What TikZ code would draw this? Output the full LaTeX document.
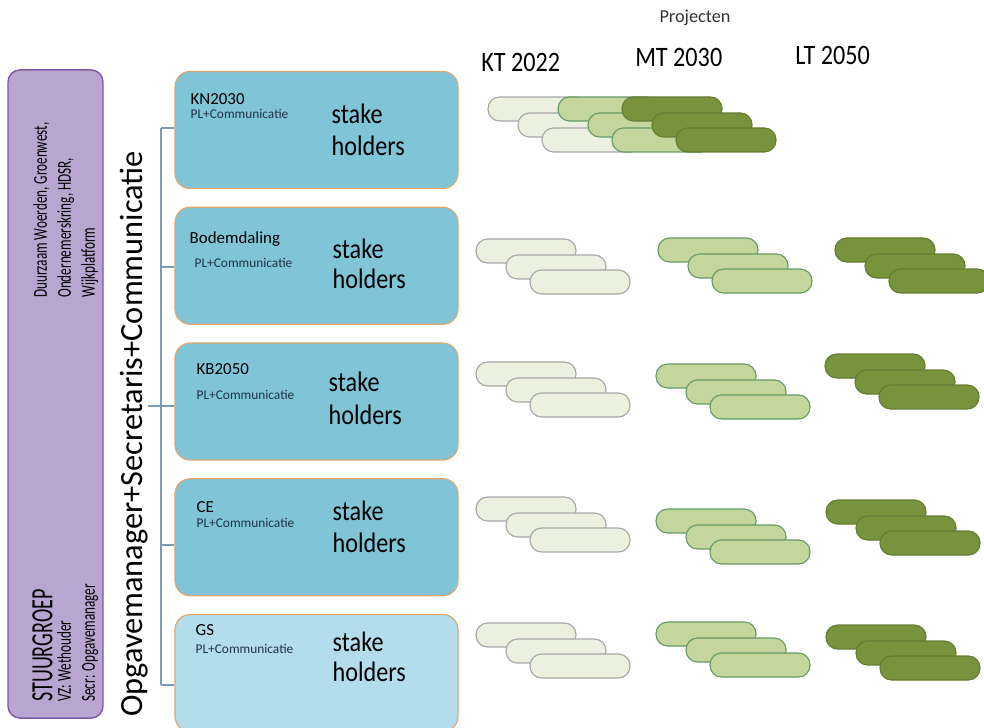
\documentclass[tikz,border=0pt]{standalone}
\usepackage{fontspec}
\setmainfont{Carlito}
\newfontfamily\narrowfont[FakeStretch=0.86]{Carlito}
\newfontfamily\sgfont[FakeStretch=0.67]{Carlito}
\newfontfamily\sgbigfont[FakeStretch=0.65]{Carlito}
\usepackage{tikz}
\usetikzlibrary{positioning,calc}
\definecolor{cpurple}{RGB}{185,166,208}
\definecolor{cpurpleline}{RGB}{128,88,168}
\definecolor{cblue}{RGB}{128,196,216}
\definecolor{clightblue}{RGB}{180,221,235}
\definecolor{corange}{RGB}{226,166,106}
\definecolor{cbus}{RGB}{125,155,185}
\definecolor{cpale}{RGB}{235,241,222}
\definecolor{cmid}{RGB}{195,214,155}
\definecolor{cdark}{RGB}{119,147,60}
\definecolor{cpl}{RGB}{30,50,70}

% three staggered project pills
\newcommand{\pillgroup}[3]{%
  \draw[#3] (#1,#2) rectangle ++(100,24);
  \draw[#3] (#1+30,#2+16) rectangle ++(100,24);
  \draw[#3] (#1+54,#2+31) rectangle ++(100,24);}

\begin{document}
\begin{tikzpicture}[x=0.025cm,y=-0.025cm,
  stuur node/.style={rectangle,rounded corners=0.3cm,draw=cpurpleline,fill=cpurple,
    line width=1pt,minimum width=2.375cm,minimum height=16.2cm},
  stage node/.style={rectangle,rounded corners=0.38cm,draw=corange,fill=cblue,
    line width=0.8pt,minimum width=7.075cm,minimum height=2.925cm},
  title node/.style={anchor=base west,inner sep=0pt,font=\fontsize{12}{14}\selectfont},
  pl node/.style={anchor=base west,inner sep=0pt,text=cpl,font=\fontsize{9.5}{11}\selectfont},
  holder node/.style={anchor=base west,inner sep=0pt,font=\narrowfont\fontsize{20}{22}\selectfont},
  head node/.style={anchor=base west,inner sep=0pt,font=\narrowfont\fontsize{20}{22}\selectfont},
  side node/.style={rotate=90,anchor=north west,inner sep=0pt,align=left,
    font=\sgfont\fontsize{14}{14}\selectfont},
  bus/.style={draw=cbus,line width=1pt},
  pale pill/.style={rounded corners=0.29cm,fill=cpale,draw=gray!70,line width=0.8pt},
  mid pill/.style={rounded corners=0.29cm,fill=cmid,draw=gray!80!green,line width=0.8pt},
  dark pill/.style={rounded corners=0.29cm,fill=cdark,draw=cdark!85!black,line width=0.8pt}]
  \useasboundingbox (0,0) rectangle (984,728);

  % stuurgroep
  \node[stuur node] (sg) at (55.5,394) {};
  \node[side node,font=\sgbigfont\fontsize{22}{24}\selectfont] (sgt) at (32,702) {STUURGROEP};
  \node[side node] (sgc) at (57,702) {VZ: Wethouder\\[3pt]Secr: Opgavemanager};
  \node[side node] (sgm) at (33,298)
    {Duurzaam Woerden, Groenwest,\\[3pt]Ondernemerskring, HDSR,\\[3pt]Wijkplatform};
  \node[rotate=90,inner sep=0pt,font=\fontsize{23}{27}\selectfont] (opg) at (134,434)
    {Opgavemanager+Secretaris+Communicatie};

  % opgaven
  \node[stage node] (b1) at (316.5,130) {};
  \node[stage node] (b2) [below=0.44cm of b1] {};
  \node[stage node] (b3) [below=0.44cm of b2] {};
  \node[stage node] (b4) [below=0.44cm of b3] {};
  \node[stage node,fill=clightblue] (b5) [below=0.44cm of b4] {};

  \node[title node] (n1) at ($(b1.north west)+(16,34)$) {KN2030};
  \node[pl node] (p1) at ($(b1.north west)+(16,48)$) {PL+Communicatie};
  \node[holder node] (s1) at ($(b1.north west)+(157,53)$) {stake};
  \node[holder node] (h1) at ($(s1.base west)+(0,32)$) {holders};

  \node[title node] (n2) at ($(b2.north west)+(15,37)$) {Bodemdaling};
  \node[pl node] (p2) at ($(b2.north west)+(20,61)$) {PL+Communicatie};
  \node[holder node] (s2) at ($(b2.north west)+(158,52)$) {stake};
  \node[holder node] (h2) at ($(s2.base west)+(0,30)$) {holders};

  \node[title node] (n3) at ($(b3.north west)+(22,32)$) {KB2050};
  \node[pl node] (p3) at ($(b3.north west)+(22,57)$) {PL+Communicatie};
  \node[holder node] (s3) at ($(b3.north west)+(154,49)$) {stake};
  \node[holder node] (h3) at ($(s3.base west)+(0,33)$) {holders};

  \node[title node] (n4) at ($(b4.north west)+(22,34)$) {CE};
  \node[pl node] (p4) at ($(b4.north west)+(22,49)$) {PL+Communicatie};
  \node[holder node] (s4) at ($(b4.north west)+(158,42)$) {stake};
  \node[holder node] (h4) at ($(s4.base west)+(0,32)$) {holders};

  \node[title node] (n5) at ($(b5.north west)+(21,22)$) {GS};
  \node[pl node] (p5) at ($(b5.north west)+(21,40)$) {PL+Communicatie};
  \node[holder node] (s5) at ($(b5.north west)+(158,38)$) {stake};
  \node[holder node] (h5) at ($(s5.base west)+(0,30)$) {holders};

  % bus from the opgavemanager to the boxes
  \coordinate (t1) at (161,128);
  \coordinate (t2) at (161,267);
  \coordinate (t3) at (161,406);
  \coordinate (t4) at (161,545);
  \coordinate (t5) at (161,685);
  \coordinate (tm) at (148,406);
  \draw[bus] (t1) -- (t5);
  \draw[bus] (t1) -- (t1 -| b1.west);
  \draw[bus] (t2) -- (t2 -| b2.west);
  \draw[bus] (tm) -- (t3 -| b3.west);
  \draw[bus] (t4) -- (t4 -| b4.west);
  \draw[bus] (t5) -- (t5 -| b5.west);

  % projecten
  \node[anchor=base,inner sep=0pt,text=black!80,font=\fontsize{13}{15}\selectfont] (proj) at (695,23) {Projecten};
  \node[head node] (kt) at (481,72) {KT 2022};
  \node[head node] (mt) at (635,67) {MT 2030};
  \node[head node] (lt) at (795,65) {LT 2050};

  \pillgroup{488}{97}{pale pill}
  \pillgroup{558}{97}{mid pill}
  \pillgroup{622}{97}{dark pill}

  \pillgroup{476}{239}{pale pill}
  \pillgroup{658}{238}{mid pill}
  \pillgroup{835}{238}{dark pill}

  \pillgroup{476}{362}{pale pill}
  \pillgroup{656}{364}{mid pill}
  \pillgroup{825}{354}{dark pill}

  \pillgroup{476}{497}{pale pill}
  \pillgroup{656}{509}{mid pill}
  \pillgroup{826}{500}{dark pill}

  \pillgroup{476}{623}{pale pill}
  \pillgroup{656}{622}{mid pill}
  \pillgroup{826}{625}{dark pill}
\end{tikzpicture}
\end{document}
